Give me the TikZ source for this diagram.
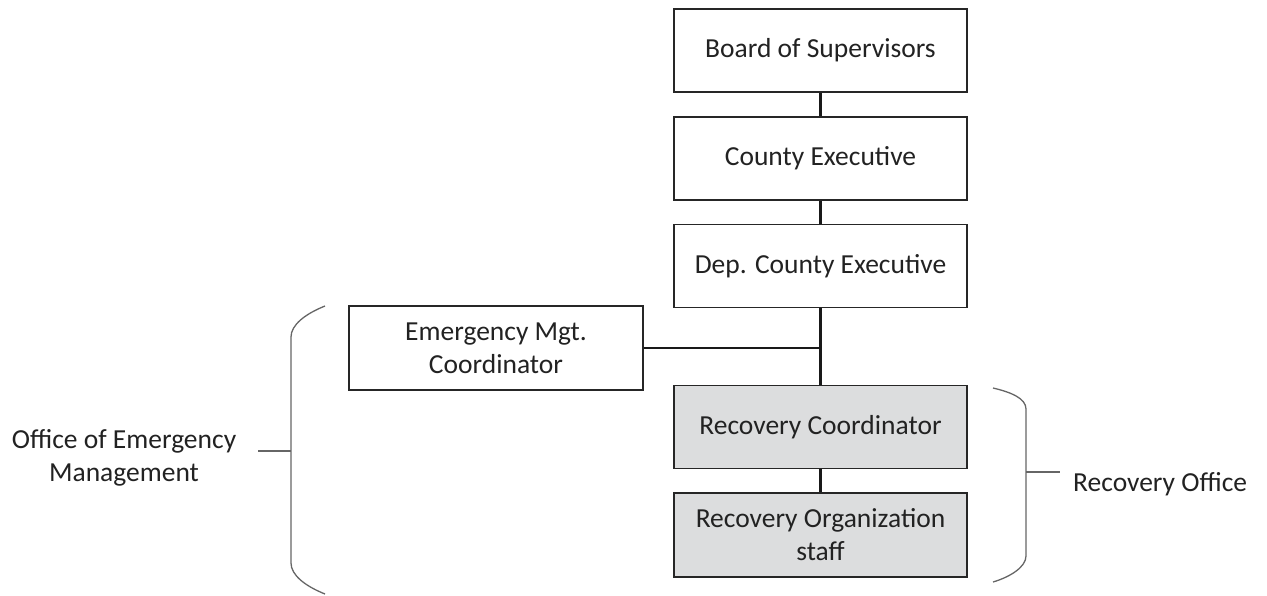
\documentclass[tikz,border=0pt]{standalone}
\usepackage{fontspec}
\setmainfont{Carlito}
\definecolor{boxgray}{HTML}{DCDDDE}
\definecolor{txt}{HTML}{222222}
\begin{document}
\begin{tikzpicture}[x=1pt,y=-1pt,
  orgbox/.style={draw=black!85, line width=1.3pt, minimum width=293pt, minimum height=83pt, inner sep=0pt, align=center, font=\fontsize{27.5}{33}\selectfont, text=txt},
  shaded/.style={orgbox, fill=boxgray},
  link/.style={draw=black!90, line width=2.4pt},
  brace/.style={draw=black!60, line width=1.3pt},
  lbl/.style={font=\fontsize{27.5}{33}\selectfont, text=txt, align=center, inner sep=0pt}]
\useasboundingbox (0,0) rectangle (1267,595);
\node[orgbox] (bos) at (820.5,50.5) {Board of Supervisors};
\node[orgbox] (ce) at (820.5,158.5) {County Executive};
\node[orgbox] (dce) at (820.5,266) {Dep. County Executive};
\node[orgbox, minimum width=294pt, minimum height=84pt] (emc) at (496,348) {Emergency Mgt.\\Coordinator};
\node[shaded] (rc) at (820.5,427) {Recovery Coordinator};
\node[shaded, minimum height=84pt] (ros) at (820.5,535) {Recovery Organization\\staff};
\draw[link] (bos) -- (ce);
\draw[link] (ce) -- (dce);
\draw[link] (dce) -- (rc);
\coordinate (j) at (dce.south |- emc.east);
\draw[link] (emc.east) -- (j);
\draw[link] (rc) -- (ros);
% left brace
\coordinate (lb) at (291,451);
\draw[brace] (325,306) .. controls (305,314) and (291,325) .. (291,337) -- (291,563) .. controls (291,575) and (305,586) .. (325,594);
\draw[brace] (258,451) -- (lb);
\node[lbl] (oem) at (124,458) {Office of Emergency\\Management};
% right brace
\coordinate (rb) at (1026,472);
\draw[brace] (993,388) .. controls (1010,392) and (1026,398) .. (1026,409) -- (1026,556) .. controls (1026,567) and (1010,577) .. (993,582);
\draw[brace] (rb) -- (1060,472);
\node[lbl, anchor=west] (ro) at (1073,484) {Recovery Office};
\end{tikzpicture}
\end{document}
